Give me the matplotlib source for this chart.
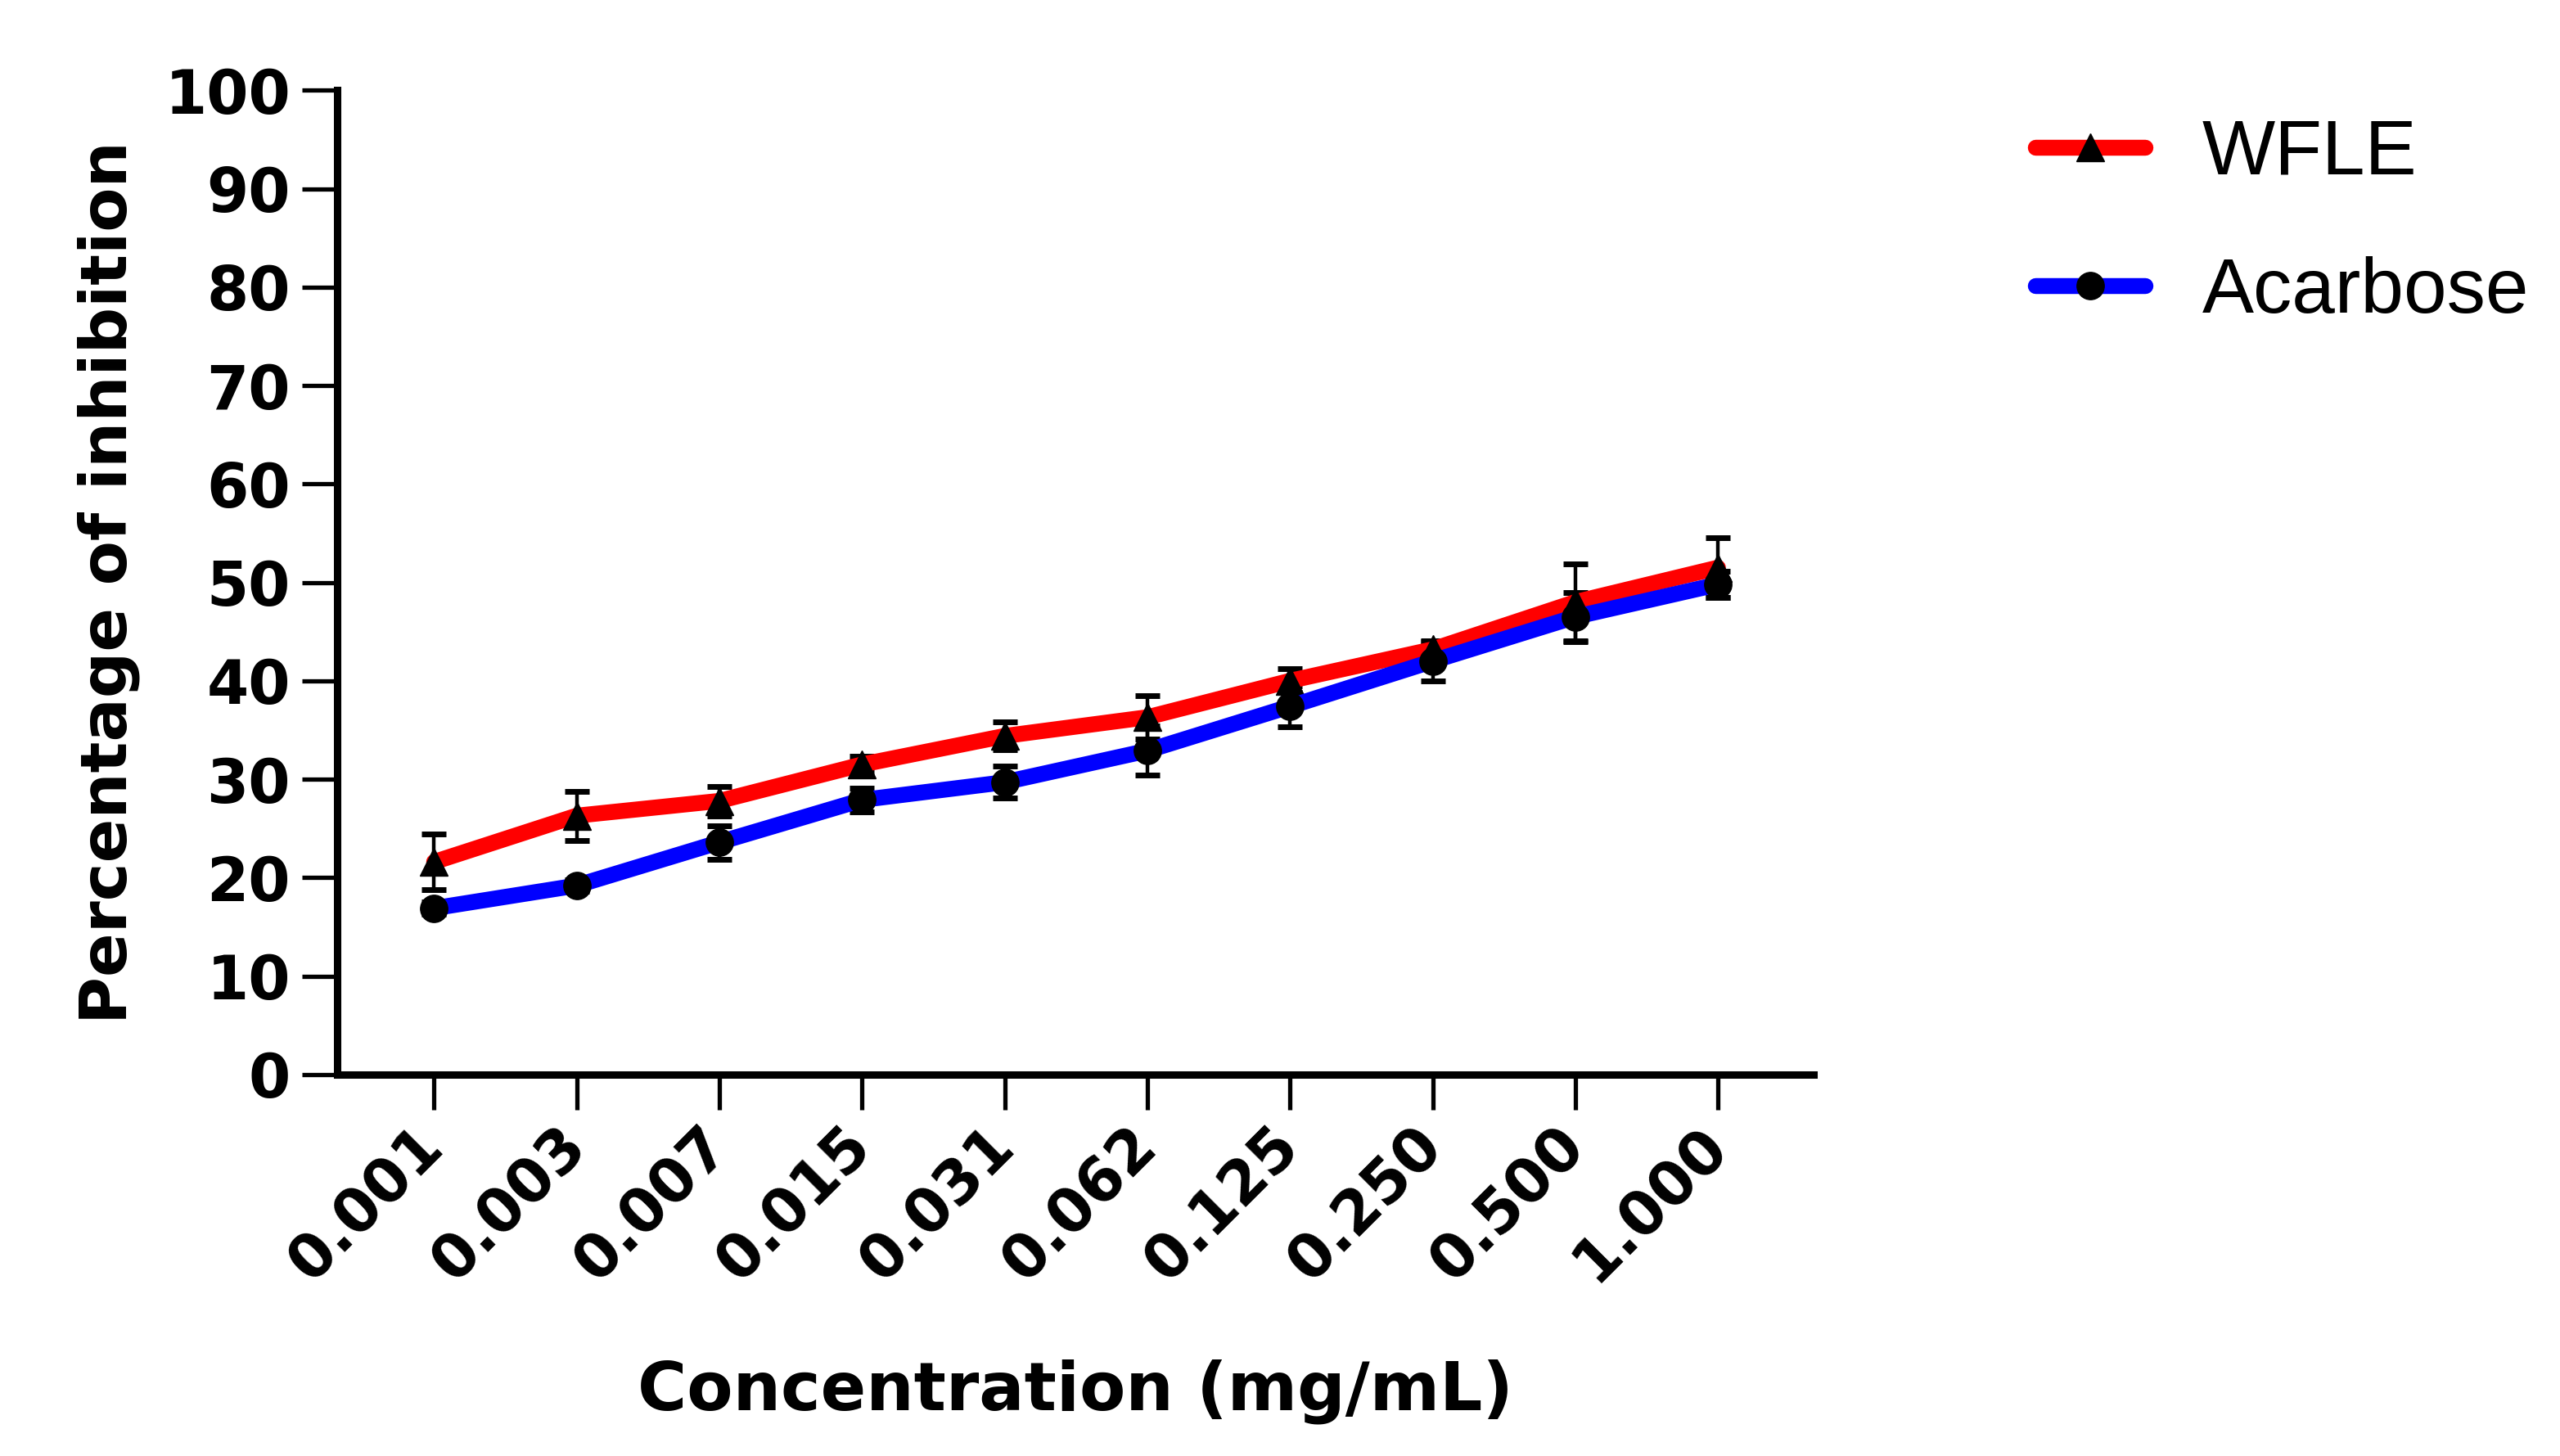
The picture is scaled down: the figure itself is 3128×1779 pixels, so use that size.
import numpy as np
import matplotlib
matplotlib.use("Agg")
import matplotlib.pyplot as plt
from matplotlib.lines import Line2D

# concentrations (mg/mL) shown as categories on the x axis
conc = ["0.001", "0.003", "0.007", "0.015", "0.031", "0.062", "0.125", "0.250", "0.500", "1.000"]

# percentage of inhibition, mean and error
wfle = [21.6, 26.3, 27.8, 31.5, 34.4, 36.3, 40.0, 43.2, 48.0, 51.5]
wfle_err = [2.8, 2.5, 1.5, 0.8, 1.4, 2.2, 1.2, 0.9, 3.9, 3.0]
acarbose = [16.9, 19.2, 23.6, 27.9, 29.7, 32.9, 37.4, 42.0, 46.5, 49.8]
acarbose_err = [0.6, 0.6, 1.7, 1.2, 1.6, 2.5, 2.1, 2.0, 2.5, 1.3]

x = np.arange(len(conc))

fig = plt.figure(figsize=(31.28, 17.79), dpi=100)
ax = fig.add_axes([0.1317, 0.262, 0.5767, 0.676])

ax.errorbar(x, wfle, yerr=wfle_err, color="#ff0000", lw=14, marker="^", ms=24,
            mfc="black", mec="black", ecolor="black", elinewidth=3.2, capsize=11,
            capthick=5, solid_capstyle="round")
ax.errorbar(x, acarbose, yerr=acarbose_err, color="#0000ff", lw=14, marker="o", ms=24,
            mfc="black", mec="black", ecolor="black", elinewidth=3.2, capsize=11,
            capthick=5, solid_capstyle="round")

ax.set_xlim(-0.68, 9.67)
ax.set_ylim(0, 100)
ax.set_yticks(np.arange(0, 101, 10))
ax.set_xticks(x)
ax.set_xticklabels(conc, rotation=45, ha="right", va="center", rotation_mode="anchor")

for s in ["top", "right"]:
    ax.spines[s].set_visible(False)
for s in ["left", "bottom"]:
    ax.spines[s].set_linewidth(6.5)

ax.tick_params(axis="both", direction="out", length=31, width=3.8, labelsize=53, pad=10)
ax.tick_params(axis="x", pad=24)
for lab in ax.get_xticklabels() + ax.get_yticklabels():
    lab.set_fontweight("bold")

ax.set_xlabel("Concentration (mg/mL)", fontsize=59, fontweight="bold", labelpad=58)
ax.set_ylabel("Percentage of inhibition", fontsize=57, fontweight="bold", labelpad=22)

handles = [
    Line2D([], [], color="#ff0000", lw=14, marker="^", ms=24, mfc="black", mec="black",
           solid_capstyle="round"),
    Line2D([], [], color="#0000ff", lw=14, marker="o", ms=24, mfc="black", mec="black",
           solid_capstyle="round"),
]
fig.legend(handles, ["WFLE", "Acarbose"], loc="center left", bbox_to_anchor=(0.795, 0.8465),
           frameon=False, prop={"family": "Liberation Sans", "size": 68}, handlelength=1.42,
           handletextpad=0.74, labelspacing=0.85, borderpad=0, borderaxespad=0)

fig.savefig("out.png", dpi=100)
